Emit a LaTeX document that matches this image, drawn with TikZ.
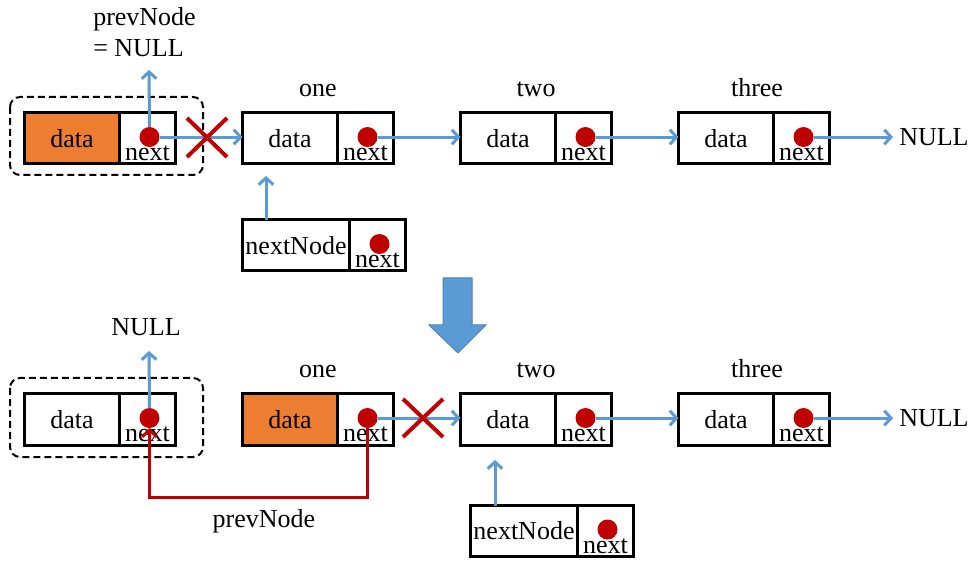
\documentclass[tikz,border=0pt]{standalone}
\usepackage{fontspec}
\setmainfont{Liberation Serif}
\usetikzlibrary{arrows.meta}
\definecolor{blu}{HTML}{5B9BD5}
\definecolor{rd}{HTML}{C00000}
\definecolor{org}{HTML}{ED7D31}
\newcommand\listcell[6]{% name, left x, center y, data text, fill, data width (pt)
  \node[cellbox,fill=#5,minimum width=#6,anchor=west] (#1d) at (#2,#3) {#4};
  \node[cellbox,minimum width=42pt,anchor=west] (#1n) at (#1d.east) {};
  \node[lbl] (#1t) at ([yshift=2.6pt]#1n.south) {next};
  \node[reddot] (#1p) at ([xshift=1.5pt,yshift=1.1pt]#1n.center) {};
}
\begin{document}
\begin{tikzpicture}[x=0.75pt,y=-0.75pt,
  every node/.style={font=\fontsize{19.5}{23.4}\selectfont},
  cellbox/.style={draw,line width=2.25pt,inner sep=0pt,outer sep=0pt,minimum height=38.25pt},
  reddot/.style={circle,fill=rd,inner sep=0pt,outer sep=0pt,minimum size=15pt},
  lbl/.style={anchor=base,inner sep=0pt},
  ptr/.style={blu,line width=2.25pt,-{Straight Barb[length=5pt,width=11pt]}},
  rptr/.style={rd,line width=2.25pt,-{Straight Barb[length=5pt,width=11pt]}},
  cross/.style={rd,line width=3pt},
  dashbox/.style={draw,line width=1.5pt,rounded corners=7.5pt,dash pattern=on 5.25pt off 3pt}
]
\fill[white] (0,0) rectangle (978,566);
\useasboundingbox (0,0) rectangle (978,566);

% ---------- row 1 ----------
\draw[dashbox] (10,97) rectangle (203,175);
\listcell{a0}{24.5}{138.5}{data}{org}{71.25pt}
\listcell{a1}{242.5}{138.5}{data}{white}{71.25pt}
\listcell{a2}{460.5}{138.5}{data}{white}{71.25pt}
\listcell{a3}{678.5}{138.5}{data}{white}{71.25pt}
\listcell{an}{242.5}{245.5}{nextNode}{white}{80.25pt}

\node[lbl] (lone1) at (318,97) {one};
\node[lbl] (ltwo1) at (536,97) {two};
\node[lbl] (lthree1) at (757,97) {three};
\node[anchor=base west,inner sep=0pt] (prev1) at (93,26) {prevNode};
\node[anchor=base west,inner sep=0pt] (prevnull1) at (93,57) {= NULL};
\node[anchor=west,inner sep=0pt] (null1) at (899,137) {NULL};

\coordinate (up1) at (149,70);
\coordinate (t1) at (266,176);
\draw[ptr] (a0p.north) -- (up1);
\draw[ptr] (a0p.east) -- (a0p.east -| a1d.west);
\draw[ptr] (a1p.east) -- (a1p.east -| a2d.west);
\draw[ptr] (a2p.east) -- (a2p.east -| a3d.west);
\draw[ptr] (a3p.east) -- ([xshift=-4.5pt]a3p.east -| null1.west);
\draw[ptr] (t1 |- and.north) -- (t1);
\draw[cross] (187,118) -- (227,157) (187,157) -- (227,118);

% ---------- big arrow ----------
\filldraw[fill=blu,draw=blu!85!black,line width=0.75pt]
  (443,278) -- (472,278) -- (472,325) -- (486,325) -- (458,353) -- (429,325) -- (443,325) -- cycle;

% ---------- row 2 ----------
\draw[dashbox] (10,378) rectangle (203,457);
\listcell{b0}{24.5}{419.5}{data}{white}{71.25pt}
\listcell{b1}{242.5}{419.5}{data}{org}{71.25pt}
\listcell{b2}{460.5}{419.5}{data}{white}{71.25pt}
\listcell{b3}{678.5}{419.5}{data}{white}{71.25pt}
\listcell{bn}{470.5}{531}{nextNode}{white}{80.25pt}

\node[lbl] (lone2) at (318,378) {one};
\node[lbl] (ltwo2) at (536,378) {two};
\node[lbl] (lthree2) at (757,378) {three};
\node[lbl] (null2top) at (146,336) {NULL};
\node[anchor=west,inner sep=0pt] (null2) at (899,418) {NULL};
\node[lbl] (prev2) at (264,527) {prevNode};

\coordinate (up2) at (149,351);
\coordinate (t2) at (495,460);
\coordinate (rb) at (258,497);
\draw[ptr] (b0p.north) -- (up2);
\draw[ptr] (b1p.east) -- (b1p.east -| b2d.west);
\draw[ptr] (b2p.east) -- (b2p.east -| b3d.west);
\draw[ptr] (b3p.east) -- ([xshift=-4.5pt]b3p.east -| null2.west);
\draw[ptr] (t2 |- bnd.north) -- (t2);
\draw[rptr] (b1p.south) |- (rb) -| (b0p.south);
\draw[cross] (403,399) -- (443,437) (403,437) -- (443,399);
\end{tikzpicture}
\end{document}
